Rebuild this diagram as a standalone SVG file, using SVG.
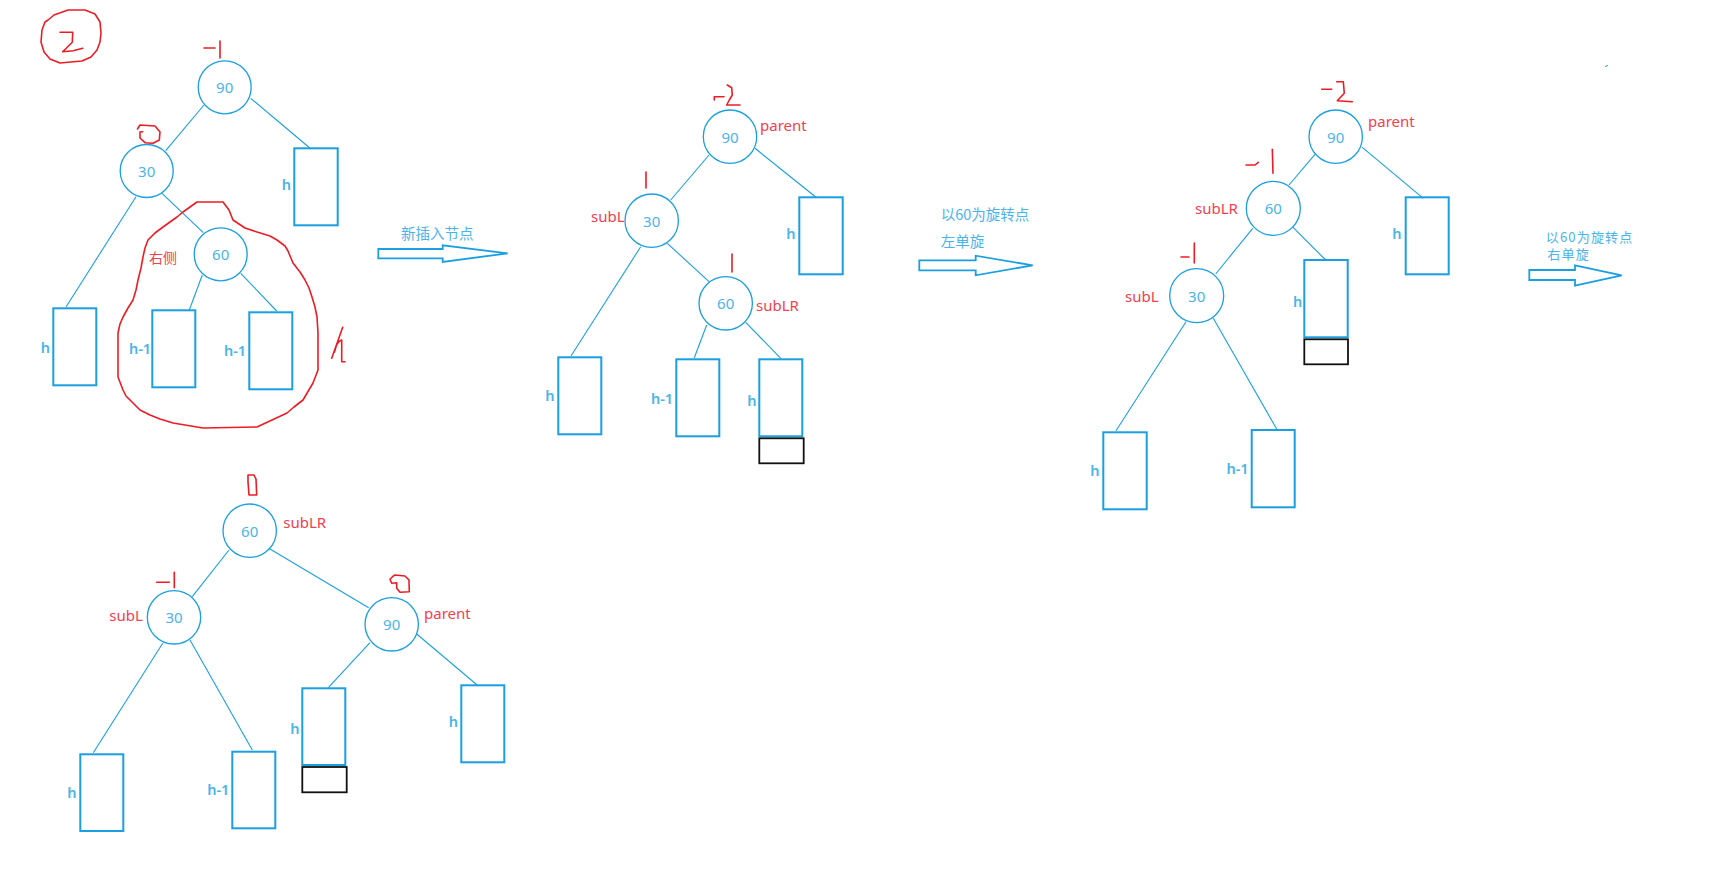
<svg xmlns="http://www.w3.org/2000/svg" width="1725" height="877" viewBox="0 0 1725 877">
<style>
.bg{fill:#ffffff}
.node circle{fill:none;stroke:#1a9fe0;stroke-width:1.3}
.node text,.num{font-family:"Noto Sans","Noto Sans CJK SC",sans-serif;font-size:15px;fill:#4ab4ea;text-anchor:middle;dominant-baseline:central}
.box{fill:none;stroke:#1a9fe0;stroke-width:2}
.blk{fill:none;stroke:#111;stroke-width:1.8}
.hl{font-family:"Noto Sans","Noto Sans CJK SC",sans-serif;font-size:14.5px;font-weight:600;fill:#4ab4ea;text-anchor:middle;dominant-baseline:central}
.rl{font-family:"Noto Sans","Noto Sans CJK SC",sans-serif;font-size:15px;fill:#f2404f;dominant-baseline:central}
.cn{font-family:"Noto Sans CJK SC","Noto Sans",sans-serif;font-size:14.5px;fill:#4ab4ea;dominant-baseline:central}
.cn2{font-family:"Noto Sans CJK SC","Noto Sans",sans-serif;font-size:13px;letter-spacing:1.2px;fill:#4ab4ea;dominant-baseline:central}
.edge{stroke:#1a9fe0;stroke-width:1.1;fill:none}
.red{fill:none;stroke:#ed1c24;stroke-width:1.6;stroke-linejoin:round;stroke-linecap:round}
.arrow{fill:none;stroke:#1a9fe0;stroke-width:1.8}
</style>
<rect class="bg" x="0" y="0" width="1725" height="877"/>

<!-- scribbled "2" in circle -->
<g id="mark-2">
<path class="red" d="M48,20 L54,15 L68,10 L85,10 L95,14 L100,22 L101,33 L100,42 L97,50 L91,57 L82,61 L60,63 L50,59 L44,52 L41,42 L42,30 L45,22 Z"/>
<path class="red" d="M60,32.3 L72.7,32.3 L72.3,42.3 L62.7,51.7 L73.3,50.7 L82.7,48.3"/>
</g>

<!-- connectors -->
<g id="connectors">
<line class="edge" x1="204" y1="105" x2="165.7" y2="150.7"/>
<line class="edge" x1="250.7" y1="98.3" x2="311" y2="149"/>
<line class="edge" x1="136" y1="196.7" x2="66" y2="307"/>
<line class="edge" x1="162" y1="193.3" x2="203.3" y2="232.7"/>
<line class="edge" x1="202.3" y1="275" x2="189.3" y2="310"/>
<line class="edge" x1="240.7" y1="273.3" x2="276.7" y2="311"/>

<line class="edge" x1="709" y1="155" x2="670.7" y2="200"/>
<line class="edge" x1="755" y1="148.3" x2="816" y2="197.3"/>
<line class="edge" x1="640.7" y1="246.7" x2="571" y2="356"/>
<line class="edge" x1="667.3" y1="243.3" x2="709" y2="281.7"/>
<line class="edge" x1="706.7" y1="325" x2="694.3" y2="357.7"/>
<line class="edge" x1="745.7" y1="322.3" x2="780.7" y2="358.3"/>

<line class="edge" x1="1315" y1="154.3" x2="1289" y2="185"/>
<line class="edge" x1="1362.3" y1="147.3" x2="1423.3" y2="198.3"/>
<line class="edge" x1="1252.7" y1="228.3" x2="1215.7" y2="274"/>
<line class="edge" x1="1292.3" y1="226.7" x2="1326.7" y2="261"/>
<line class="edge" x1="1186" y1="321.7" x2="1116" y2="430.7"/>
<line class="edge" x1="1213.3" y1="318.3" x2="1276.7" y2="429"/>

<line class="edge" x1="229" y1="550" x2="192.3" y2="596.7"/>
<line class="edge" x1="268.7" y1="548.3" x2="368.7" y2="607.7"/>
<line class="edge" x1="162.7" y1="643.3" x2="93.3" y2="752.7"/>
<line class="edge" x1="190" y1="640" x2="252.3" y2="750"/>
<line class="edge" x1="370" y1="642.7" x2="328.3" y2="687.7"/>
<line class="edge" x1="416.7" y1="634" x2="478.3" y2="686"/>
</g>

<!-- ===== Tree 1 ===== -->
<g id="t1-n90" class="node"><circle cx="224.7" cy="87.3" r="26.5"/><text x="224.7" y="87.3">90</text></g>
<g id="t1-n30" class="node"><circle cx="146.7" cy="171" r="26.5"/><text x="146.7" y="171">30</text></g>
<g id="t1-n60" class="node"><circle cx="220.7" cy="254.3" r="26.5"/><text x="220.7" y="254.3">60</text></g>
<g id="t1-r-right"><rect class="box" x="294.3" y="148.3" width="43.4" height="77"/><text class="hl" x="286.3" y="184">h</text></g>
<g id="t1-r-left"><rect class="box" x="53.3" y="308.3" width="43" height="77"/><text class="hl" x="45.5" y="347">h</text></g>
<g id="t1-r-mid"><rect class="box" x="152.3" y="310.3" width="43" height="77"/><text class="hl" x="140" y="348">h-1</text></g>
<g id="t1-r-r"><rect class="box" x="249.3" y="312.3" width="43" height="77"/><text class="hl" x="235" y="350">h-1</text></g>
<g id="t1-marks">
<path class="red" d="M204,48 L215,48 M220,41 L220,58"/>
<path class="red" d="M142.7,131.7 L140,132 L140,138 L145,142.7 L153,143.3 L159.3,140 L160,132 L155,126 L140,125 L137.5,129"/>
<path class="red" d="M197,202 L223,202 L229,210 L233,220 L245,228 L257,232 L270,236 L277,240 L285,246 L288,251 L293,263 L300,272 L305,280 L309,288 L312,297 L315,307 L317,317 L318,333 L318,370 L313,383 L303,400 L294,407 L287,413 L272,420 L257,427 L203,428 L173,423 L160,419 L150,415 L140,410 L133,403 L126,396 L123,390 L118,377 L118,333 L120,324 L123,317 L128,308 L133,300 L136,290 L138,280 L141,268 L143,257 L145,248 L148,240 L155,233 L163,227 L170,222 L177,217 L183,212 L190,207 Z"/>
<path class="red" d="M342.7,327.3 L331.7,358.3 M334.5,352 L336.5,345 L339,341.5 L341.7,340 L341.7,361.7 L345,361.7"/>
<text class="rl" x="149" y="257" style="font-size:14px">右侧</text>
</g>

<!-- arrow 1 -->
<g id="arrow1">
<polygon class="arrow" points="378.3,249 442.7,249 442.7,245.3 507.7,253.3 442.7,262 442.7,258.3 378.3,258.3"/>
<text class="cn" x="401" y="232.7">新插入节点</text>
</g>

<!-- ===== Tree 2 ===== -->
<g id="t2-n90" class="node"><circle cx="730" cy="136.7" r="26.7"/><text x="730" y="136.7">90</text></g>
<g id="t2-n30" class="node"><circle cx="651.7" cy="220.7" r="26.7"/><text x="651.7" y="220.7">30</text></g>
<g id="t2-n60" class="node"><circle cx="725.7" cy="303.3" r="26.7"/><text x="725.7" y="303.3">60</text></g>
<g id="t2-r-right"><rect class="box" x="799.3" y="197.3" width="43.4" height="77"/><text class="hl" x="791" y="233">h</text></g>
<g id="t2-r-left"><rect class="box" x="558.3" y="357.3" width="43" height="77"/><text class="hl" x="550" y="395">h</text></g>
<g id="t2-r-mid"><rect class="box" x="676.3" y="359.3" width="43" height="77"/><text class="hl" x="662" y="397.7">h-1</text></g>
<g id="t2-r-r"><rect class="box" x="759.3" y="359.3" width="43" height="77"/><text class="hl" x="752" y="400">h</text></g>
<g id="t2-new"><rect class="blk" x="759.3" y="438.3" width="44.4" height="25"/></g>
<g id="t2-marks">
<path class="red" d="M714.3,100 L714.3,96.7 L724,96.7 M727.3,85 L731.7,87.7 L732.3,95 L729.3,100 L726.7,105 L740,105"/>
<path class="red" d="M646,172 L646,188"/>
<path class="red" d="M732,254 L732,272"/>
<text class="rl" x="760" y="125">parent</text>
<text class="rl" x="591" y="216">subL</text>
<text class="rl" x="756" y="305">subLR</text>
</g>

<!-- arrow 2 -->
<g id="arrow2">
<polygon class="arrow" points="919.3,260.3 975.7,260.3 975.7,255.7 1032.7,265.3 975.7,275.3 975.7,270.3 919.3,270.3"/>
<text class="cn" x="940.7" y="213.3">以60为旋转点</text>
<text class="cn" x="940.7" y="240">左单旋</text>
</g>

<!-- ===== Tree 3 ===== -->
<g id="t3-n90" class="node"><circle cx="1335.7" cy="136.7" r="26.7"/><text x="1335.7" y="136.7">90</text></g>
<g id="t3-n60" class="node"><circle cx="1273.3" cy="208.3" r="27"/><text x="1273.3" y="208.3">60</text></g>
<g id="t3-n30" class="node"><circle cx="1196.7" cy="295.7" r="27"/><text x="1196.7" y="295.7">30</text></g>
<g id="t3-r-right"><rect class="box" x="1405.7" y="197.3" width="43" height="77"/><text class="hl" x="1397" y="233.3">h</text></g>
<g id="t3-r-mid"><rect class="box" x="1304.3" y="260" width="43.4" height="77.3"/><text class="hl" x="1297.7" y="301">h</text></g>
<g id="t3-new"><rect class="blk" x="1304.3" y="339.3" width="43.7" height="25"/></g>
<g id="t3-r-left"><rect class="box" x="1103.3" y="432.3" width="43.4" height="77"/><text class="hl" x="1095" y="470">h</text></g>
<g id="t3-r-h1"><rect class="box" x="1251.7" y="430" width="43" height="77.3"/><text class="hl" x="1237.5" y="468.3">h-1</text></g>
<g id="t3-marks">
<path class="red" d="M1321.7,89.3 L1331.7,89.3 M1336.7,81.7 L1343.3,81.7 L1344.3,93.3 L1337.3,100.7 L1352.3,101.7"/>
<path class="red" d="M1246,165 L1255,165 L1258.3,162.3 M1272.3,149.3 L1273,173.3"/>
<path class="red" d="M1181,257 L1189,257 M1194.3,243 L1194.3,263"/>
<text class="rl" x="1368" y="121">parent</text>
<text class="rl" x="1195" y="207.7">subLR</text>
<text class="rl" x="1125" y="295.7">subL</text>
</g>

<!-- arrow 3 -->
<g id="arrow3">
<polygon class="arrow" points="1529.3,270 1575,270 1575,265.3 1621.7,275.3 1575,285.7 1575,280 1529.3,280"/>
<text class="cn2" x="1545.7" y="236.5">以60为旋转点</text>
<text class="cn2" x="1547.3" y="253">右单旋</text>
</g>
<line x1="1605" y1="66.5" x2="1608" y2="65.5" stroke="#1a9fe0" stroke-width="1"/>

<!-- ===== Tree 4 ===== -->
<g id="t4-n60" class="node"><circle cx="249.7" cy="530.7" r="26.7"/><text x="249.7" y="530.7">60</text></g>
<g id="t4-n30" class="node"><circle cx="174" cy="617.3" r="26.7"/><text x="174" y="617.3">30</text></g>
<g id="t4-n90" class="node"><circle cx="391.7" cy="624.3" r="26.7"/><text x="391.7" y="624.3">90</text></g>
<g id="t4-r-left"><rect class="box" x="80.3" y="754.3" width="43" height="76.7"/><text class="hl" x="72" y="792">h</text></g>
<g id="t4-r-h1"><rect class="box" x="232.3" y="751.7" width="43" height="76.6"/><text class="hl" x="218.3" y="789.3">h-1</text></g>
<g id="t4-r-mid"><rect class="box" x="302.3" y="688.3" width="43" height="76.7"/><text class="hl" x="295" y="728.3">h</text></g>
<g id="t4-new"><rect class="blk" x="302.3" y="767" width="44.4" height="25.3"/></g>
<g id="t4-r-right"><rect class="box" x="461.3" y="685.3" width="43" height="77"/><text class="hl" x="453.3" y="721">h</text></g>
<g id="t4-marks">
<path class="red" d="M248,475 L254,475 L256,479 L256.7,495 L249,495 L248,482 Z"/>
<path class="red" d="M156.7,582.3 L169.3,582.3 M174.3,572.3 L174.3,587.7"/>
<path class="red" d="M393.3,576 L395,575 L405,576 L409,580 L409.3,591.7 L400,592.3 L396.7,588.3 L396.7,582.7 L391.7,583.3 L390,579.3 Z"/>
<text class="rl" x="283.3" y="521.7">subLR</text>
<text class="rl" x="109.3" y="615">subL</text>
<text class="rl" x="424" y="613.3">parent</text>
</g>
</svg>
